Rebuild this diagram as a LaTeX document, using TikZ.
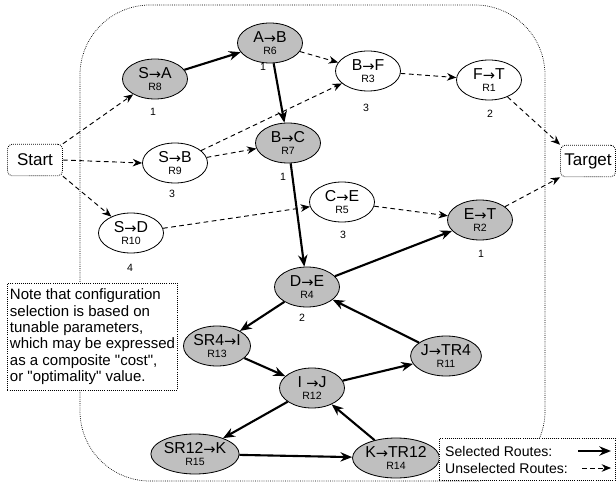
\documentclass[tikz,border=0pt]{standalone}
\usepackage{fontspec}
\setmainfont{Liberation Sans}[Ligatures=TeXOff]
\newfontfamily\arrf{DejaVu Sans}
\usetikzlibrary{shapes.geometric,arrows.meta}
\begin{document}
\begin{tikzpicture}[x=0.03cm,y=-0.03cm,
 rnode/.style={ellipse,draw=black,line width=0.7pt,minimum width=1.95cm,minimum height=1.2cm,inner sep=0pt,align=center,font=\fontsize{13.5}{12}\selectfont},
 sel/.style={rnode,fill=gray!50},
 unsel/.style={rnode,fill=white},
 num/.style={font=\fontsize{9}{10}\selectfont,inner sep=0pt},
 endbox/.style={draw,densely dotted,line width=0.7pt,rounded corners=4pt,fill=white,minimum width=1.65cm,minimum height=0.95cm,inner sep=1pt,font=\fontsize{14.5}{15}\selectfont},
 solidarr/.style={line width=1.8pt,-{Stealth[length=10pt,width=8pt]}},
 dasharr/.style={line width=0.8pt,dash pattern=on 4pt off 3pt,-{Stealth[length=8pt,width=6.5pt]}},
]
\useasboundingbox (0,0) rectangle (616,483);
\newcommand{\ra}{{\arrf\fontsize{12.5}{12}\selectfont\raisebox{-0.5pt}{→}}}
\newcommand{\lab}[2]{#1\\[-2pt]{\fontsize{9}{9}\selectfont #2}}
% region
\draw[densely dotted,line width=0.6pt,rounded corners=2.1cm] (80,5) rectangle (545,481);
% end boxes
\node[endbox] (start) at (35,160) {Start};
\node[endbox] (target) at (588,161) {Target};
% route nodes
\node[sel] (sa) at (155,79) {\lab{S\ra A}{R8}};
\node[sel] (ab) at (270,43) {\lab{A\ra B}{R6}};
\node[unsel] (bf) at (368,71) {\lab{B\ra F}{R3}};
\node[unsel] (ft) at (489,80) {\lab{F\ra T}{R1}};
\node[unsel] (sb) at (175,163) {\lab{S\ra B}{R9}};
\node[sel] (bc) at (288,143) {\lab{B\ra C}{R7}};
\node[unsel] (ce) at (342,202) {\lab{C\ra E}{R5}};
\node[sel] (et) at (480,220) {\lab{E\ra T}{R2}};
\node[unsel] (sd) at (131,233) {\lab{S\ra D}{R10}};
\node[sel] (de) at (307,287) {\lab{D\ra E}{R4}};
\node[sel] (sri) at (217,346) {\lab{SR4\ra I}{R13}};
\node[sel] (ij) at (312,388) {\lab{I \ra J}{R12}};
\node[sel] (jt) at (446,356) {\lab{J\ra TR4}{R11}};
\node[sel] (srk) at (195,454) {\lab{SR12\ra K}{R15}};
\node[sel] (kt) at (396,458) {\lab{K\ra TR12}{R14}};
% numbers
\node[num] (n8) at (153,112) {1};
\node[num] (n6) at (263,67) {1};
\node[num] (n3) at (366,108) {3};
\node[num] (n1) at (490,114) {2};
\node[num] (n9) at (172,194) {3};
\node[num] (n7) at (283,177) {1};
\node[num] (n5) at (343,235) {3};
\node[num] (n2) at (481,254) {1};
\node[num] (n10) at (130,268) {4};
\node[num] (n4) at (302,318) {2};
% dashed edges
\draw[dasharr] (start.north east) -- (sa);
\draw[dasharr] (start.east) -- (sb.west);
\draw[dasharr] (start.south east) -- (sd);
\draw[dasharr] (ab) -- (bf);
\draw[dasharr] (sb) -- (bf);
\draw[dasharr] (sb) -- (bc);
\draw[dasharr] (bf) -- (ft);
\draw[dasharr] (ft) -- (target.north west);
\draw[dasharr] (sd) -- (ce);
\draw[dasharr] (ce) -- (et);
\draw[dasharr] (et) -- (target.south west);
% solid edges
\draw[solidarr] (sa) -- (ab);
\draw[solidarr] (ab) -- (bc);
\draw[solidarr] (bc) -- (de);
\draw[solidarr] (de) -- (et);
\draw[solidarr] (de) -- (sri);
\draw[solidarr] (sri) -- (ij);
\draw[solidarr] (ij) -- (jt);
\draw[solidarr] (jt) -- (de);
\draw[solidarr] (ij) -- (srk);
\draw[solidarr] (srk) -- (kt);
\draw[solidarr] (kt) -- (ij);
% note
\node[draw,densely dotted,line width=0.8pt,fill=white,anchor=north west,align=left,minimum width=5.1cm,minimum height=3.2cm,inner sep=2pt,font=\fontsize{12.8}{14}\selectfont] (note) at (7,283)
 {Note that configuration\\selection is based on\\tunable parameters,\\which may be expressed\\as a composite "cost",\\or "optimality" value.};
% legend
\node[draw,densely dotted,line width=0.8pt,fill=white,anchor=north west,minimum width=5.28cm,minimum height=1.26cm] (legend) at (439,438) {};
\node[anchor=west,inner sep=0pt,font=\fontsize{12}{12}\selectfont] (lsel) at (445,451) {Selected Routes:};
\node[anchor=west,inner sep=0pt,font=\fontsize{12}{12}\selectfont] (lun) at (445,468) {Unselected Routes:};
\coordinate (a1) at (578,451);
\coordinate (a2) at (611,451);
\coordinate (b1) at (582,468);
\coordinate (b2) at (611,468);
\draw[solidarr] (a1) -- (a2);
\draw[dasharr] (b1) -- (b2);
\end{tikzpicture}
\end{document}
